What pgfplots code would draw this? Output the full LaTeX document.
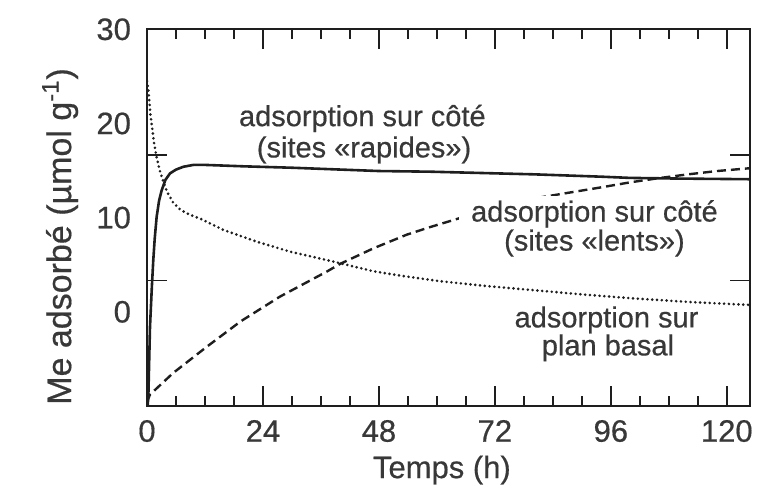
\documentclass[border=0pt]{standalone}
\usepackage{pgfplots}
\pgfplotsset{compat=1.18}
\usepackage{fontspec}
\setmainfont{Liberation Sans}[FakeBold=0.5]
\definecolor{txt}{HTML}{383838}
\definecolor{ln}{HTML}{1E1E1E}
\begin{document}
\begin{tikzpicture}[x=1pt,y=1pt]
\begin{axis}[
  scale only axis, width=301.5pt, height=188.35pt,
  at={(73.5pt,42.5pt)}, anchor=south west,
  xmin=0, xmax=124.8, ymin=-10, ymax=30,
  axis line style={ln, line width=1.2pt},
  tick style={ln, line width=0.8pt},
  tick align=inside,
  major tick length=10pt, minor tick length=5pt,
  xtick={0,24,...,120}, minor x tick num=3,
  ytick={-10,3.33333,16.66667,30}, yticklabels={,,,},
  minor y tick num=3,
  extra y ticks={0,10,20,30}, extra y tick labels={0,10,20,30},
  extra y tick style={major tick length=0pt},
  /pgf/number format/assume math mode=true,
  ticklabel style={font=\fontsize{15.5}{18}\selectfont, text=txt},
  yticklabel style={xshift=-4.5pt},
  xticklabel style={yshift=-3.5pt},
  xlabel={Temps (h)},
  ylabel={Me adsorbé (µmol g\textsuperscript{-1})},
  xlabel style={at={(axis description cs:0.489,-0.17)}, anchor=center, font=\fontsize{15.5}{18}\selectfont, text=txt},
  ylabel style={at={(axis description cs:-0.144,0.45)}, anchor=center, font=\fontsize{17}{20}\selectfont, text=txt},
  clip mode=individual,
]
% sites rapides (solid)
\addplot[ln, line width=1.3pt] coordinates {
 (0.15,-10) (0.3,-8.5) (0.62,-1.6) (1.0,2.6) (1.3,5.5) (1.6,7.8) (2.0,10.1)
 (2.5,11.8) (3.04,12.9) (3.8,14.0) (4.76,14.7) (6.0,15.1) (7.5,15.4) (9.6,15.6)
 (12,15.6) (20,15.45) (30,15.3) (48,14.95) (58.6,14.88) (80,14.6) (94,14.35)
 (100,14.22) (110,14.15) (124.8,14.08)
};
% sites lents (dashed)
\addplot[ln, line width=1.2pt, dash pattern=on 4.5pt off 2.5pt] coordinates {
 (0,-9.6) (0.6,-8.8) (5.4,-6.5) (12.4,-3.7) (19.3,-1.04) (27.5,1.61) (37.2,4.27)
 (40,5.1) (46.9,6.75) (53.8,8.2) (58.6,9.0) (64.1,9.85) (70,10.8) (76,11.5)
 (81.4,12.15) (93.8,13.2) (100,13.75) (106,14.2) (112,14.6) (118,14.95) (124.8,15.25)
};
% plan basal (dotted)
\addplot[ln, line width=1.45pt, line cap=round, dash pattern=on 0pt off 2.4pt] coordinates {
 (0,24.5) (0.3,23.5) (0.7,21) (1.0,19.8) (1.5,17.8) (2.0,16.4) (2.7,14.9)
 (3.4,13.8) (4.1,12.8) (5.4,11.6) (7,10.8) (8.9,10.3) (11,9.9) (15.8,8.7)
 (22.7,7.45) (29.6,6.39) (38.6,5.33) (46.9,4.3) (53,3.8) (60.7,3.25) (70,2.75)
 (79.3,2.33) (90,1.85) (100,1.45) (112,1.05) (124.8,0.73)
};
\node[txt, font=\fontsize{14.5}{17}\selectfont] at (axis cs:44.57,20.53) {adsorption sur côté};
\node[txt, font=\fontsize{14.5}{17}\selectfont] at (axis cs:44.92,17.19) {(sites «rapides»)};
\node[txt, font=\fontsize{14.5}{13.3}\selectfont, align=center, fill=white, inner xsep=6pt, inner ysep=2pt] at (axis cs:92.6,8.86) {adsorption sur côté\\(sites «lents»)};
\node[txt, font=\fontsize{14.5}{17}\selectfont] at (axis cs:95.1,-0.86) {adsorption sur};
\node[txt, font=\fontsize{14.5}{17}\selectfont] at (axis cs:95.4,-3.83) {plan basal};
\end{axis}
\pgfresetboundingbox
\path (0,0) rectangle (381.5pt,245.5pt);
\end{tikzpicture}
\end{document}
